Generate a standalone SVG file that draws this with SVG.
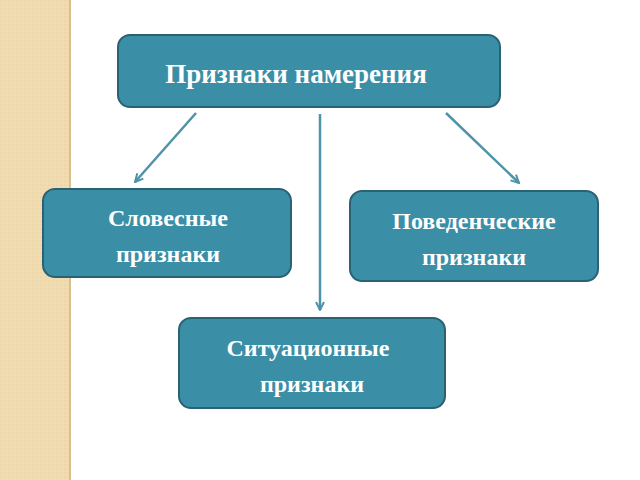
<svg xmlns="http://www.w3.org/2000/svg" width="640" height="480" viewBox="0 0 640 480">
<defs>
<style>
.box{fill:#3a8ea6;stroke:#2a6275;stroke-width:2}
.t{font-family:"Liberation Serif",serif;font-weight:bold;fill:#fff;text-anchor:middle}
.c{stroke:#4f93a8;stroke-width:2.5;fill:none}
</style>
<pattern id="p" width="4" height="4" patternUnits="userSpaceOnUse"><rect width="4" height="4" fill="#f1dcb2"/><circle cx="1" cy="1" r="0.7" fill="#e6cc98"/></pattern>
<marker id="a" viewBox="0 0 10 10" refX="9" refY="5" markerWidth="4" markerHeight="4" orient="auto"><path d="M1,1 L9,5 L1,9" fill="none" stroke="#4f93a8" stroke-width="2"/></marker>
</defs>
<rect width="640" height="480" fill="#fff"/>
<rect width="70" height="480" fill="url(#p)"/>
<line x1="70" y1="0" x2="70" y2="480" stroke="#d9c08e" stroke-width="2"/>
<g id="connectors">
<line class="c" x1="196" y1="113" x2="135" y2="182" marker-end="url(#a)"/>
<line class="c" x1="320" y1="114" x2="320" y2="310" marker-end="url(#a)"/>
<line class="c" x1="446" y1="113" x2="519" y2="183" marker-end="url(#a)"/>
</g>
<g id="top"><rect class="box" x="118" y="35" width="382" height="72" rx="12"/><text class="t" x="296" y="83" font-size="27">Признаки намерения</text></g>
<g id="left"><rect class="box" x="43" y="189" width="248" height="88" rx="12"/><text class="t" x="168" y="226" font-size="24">Словесные</text><text class="t" x="168" y="262" font-size="24">признаки</text></g>
<g id="right"><rect class="box" x="350" y="191" width="248" height="90" rx="12"/><text class="t" x="474" y="229" font-size="24">Поведенческие</text><text class="t" x="474" y="265" font-size="24">признаки</text></g>
<g id="bottom"><rect class="box" x="179" y="318" width="266" height="90" rx="12"/><text class="t" x="308" y="356" font-size="24">Ситуационные</text><text class="t" x="312" y="392" font-size="24">признаки</text></g>
</svg>
